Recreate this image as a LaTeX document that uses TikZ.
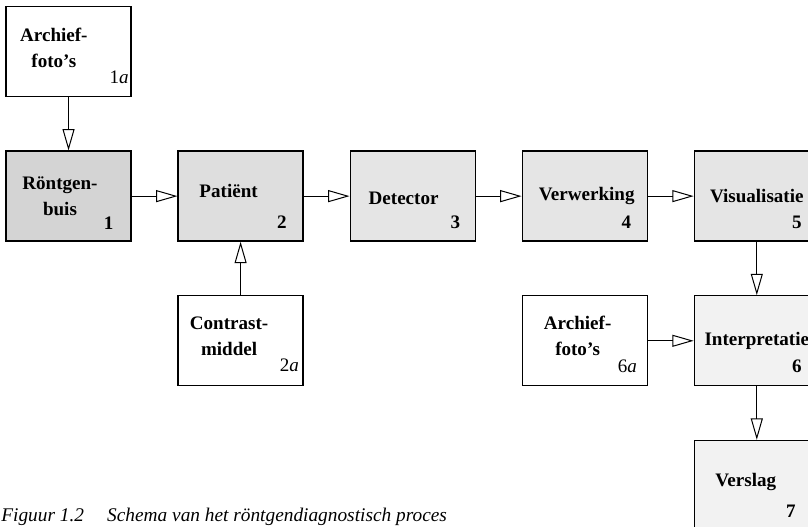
\documentclass[tikz,border=0pt]{standalone}
\usepackage{fontspec}
\setmainfont{Liberation Serif}
\usetikzlibrary{arrows.meta,positioning}

\begin{document}
\begin{tikzpicture}[node distance = 40pt and 34.3pt]
  \tikzset{box/.style = {shape = rectangle, minimum width = 93.75pt, minimum height = 67.5pt, draw = black, line width = 1pt, inner sep = 0pt}}
  \tikzset{plain/.style = {box, fill = white}}
  \tikzset{dark/.style = {box, fill = black!17}}
  \tikzset{mid/.style = {box, fill = black!13}}
  \tikzset{light/.style = {box, fill = black!10}}
  \tikzset{pale/.style = {box, fill = black!5}}
  \tikzset{lbl/.style = {font = \fontsize{14.3}{19.5}\selectfont\bfseries, align = center, inner sep = 0pt}}
  \tikzset{nr/.style = {font = \fontsize{14.3}{17}\selectfont\bfseries, inner sep = 0pt}}
  \tikzset{nra/.style = {font = \fontsize{14.3}{17}\selectfont, inner sep = 0pt}}
  \tikzset{flow/.style = {-{Triangle[open, length = 16pt, width = 9pt]}, line width = 0.75pt}}
  \tikzset{caption/.style = {font = \fontsize{14.5}{17}\selectfont\itshape, inner sep = 0pt}}

  \path[use as bounding box, clip] (0,0) rectangle (606pt,-395.25pt);

  % boxes
  \node[plain] (Archief1) at (51.4pt,-38.6pt) {};
  \node[dark, below = of Archief1] (Buis) {};
  \node[mid, right = of Buis] (Patient) {};
  \node[plain, below = of Patient] (Contrast) {};
  \node[light, right = of Patient] (Detector) {};
  \node[light, right = of Detector] (Verwerking) {};
  \node[light, right = of Verwerking] (Visual) {};
  \node[pale, below = of Visual] (Interp) {};
  \node[plain, left = of Interp] (Archief6) {};
  \node[pale, below = of Interp] (Verslag) {};

  % texts
  \node[lbl] (Archief1Text) at ([xshift = -11pt, yshift = 2.6pt]Archief1.center) {Archief-\\foto's};
  \node[lbl] (BuisText) at ([xshift = -6.4pt]Buis.center) {Röntgen-\\buis};
  \node[lbl] (PatientText) at ([xshift = -9pt, yshift = 3.7pt]Patient.center) {Patiënt};
  \node[lbl] (ContrastText) at ([xshift = -8.6pt, yshift = 3.7pt]Contrast.center) {Contrast-\\middel};
  \node[lbl] (DetectorText) at ([xshift = -6.8pt, yshift = -1.5pt]Detector.center) {Detector};
  \node[lbl] (VerwerkingText) at ([xshift = 1.5pt]Verwerking.center) {Verwerking};
  \node[lbl] (VisualText) at (Visual.center) {Visualisatie};
  \node[lbl] (Archief6Text) at ([xshift = -5.3pt, yshift = 4pt]Archief6.center) {Archief-\\foto's};
  \node[lbl] (InterpText) at (Interp.center) {Interpretatie};
  \node[lbl] (VerslagText) at ([xshift = -8.3pt, yshift = 2.6pt]Verslag.center) {Verslag};

  % numbers
  \node[nra, above left = 10pt and 2pt of Archief1.south east] (Archief1Nr) {1\textit{a}};
  \node[nr, above left = 9pt and 13.5pt of Buis.south east] (BuisNr) {1};
  \node[nr, above left = 10pt and 12.7pt of Patient.south east] (PatientNr) {2};
  \node[nra, above left = 11pt and 3.4pt of Contrast.south east] (ContrastNr) {2\textit{a}};
  \node[nr, above left = 10pt and 11.6pt of Detector.south east] (DetectorNr) {3};
  \node[nr, above left = 10pt and 12.4pt of Verwerking.south east] (VerwerkingNr) {4};
  \node[nr, above left = 10pt and 13.5pt of Visual.south east] (VisualNr) {5};
  \node[nra, above left = 10.5pt and 8pt of Archief6.south east] (Archief6Nr) {6\textit{a}};
  \node[nr, above left = 10pt and 13.5pt of Interp.south east] (InterpNr) {6};
  \node[nr, above left = 9.8pt and 18pt of Verslag.south east] (VerslagNr) {7};

  % connectors
  \draw[flow] (Archief1) -- (Buis);
  \draw[flow] (Buis) -- (Patient);
  \draw[flow] (Contrast) -- (Patient);
  \draw[flow] (Patient) -- (Detector);
  \draw[flow] (Detector) -- (Verwerking);
  \draw[flow] (Verwerking) -- (Visual);
  \draw[flow] (Visual) -- (Interp);
  \draw[flow] (Archief6) -- (Interp);
  \draw[flow] (Interp) -- (Verslag);

  \node[caption, anchor = base west] (Caption) at (0.8pt,-391.5pt) {Figuur 1.2\hspace{1.2em}Schema van het röntgendiagnostisch proces};

\end{tikzpicture}
\end{document}
